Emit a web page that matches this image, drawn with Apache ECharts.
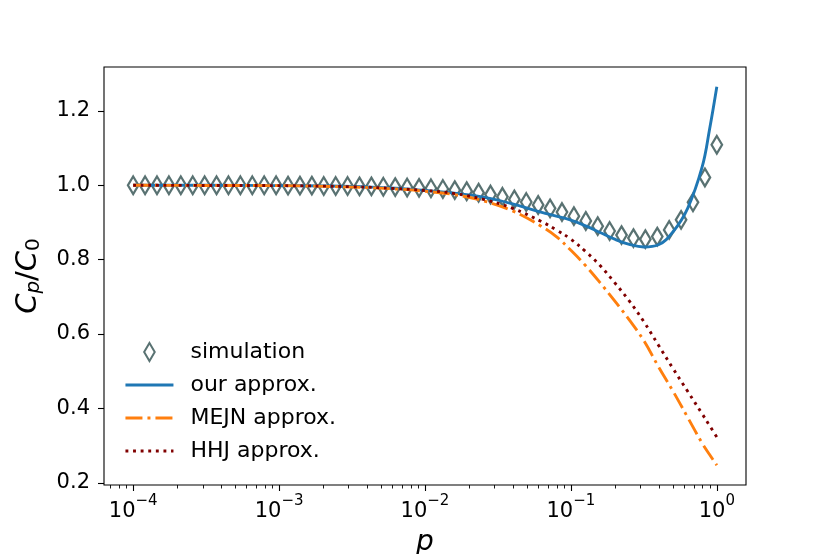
<!DOCTYPE html>
<html><head><meta charset="utf-8">
<script src="https://cdn.jsdelivr.net/npm/echarts@6/dist/echarts.min.js"></script>
<style>html,body{margin:0;padding:0;background:#fff}#c{width:830px;height:554px}</style>
</head><body><div id="c"></div>
<script>
// simulation points (p, C_p/C_0)
const simP = [1.0e-4, 1.2068e-4, 1.4563e-4, 1.7575e-4, 2.1210e-4, 2.5595e-4, 3.0888e-4, 3.7276e-4, 4.4984e-4, 5.4287e-4,
  6.5513e-4, 7.9060e-4, 9.5410e-4, 1.1514e-3, 1.3895e-3, 1.6768e-3, 2.0236e-3, 2.4421e-3, 2.9471e-3, 3.5565e-3,
  4.2919e-3, 5.1795e-3, 6.2506e-3, 7.5431e-3, 9.1030e-3, 1.09854e-2, 1.32571e-2, 1.59985e-2, 1.93069e-2, 2.32995e-2,
  2.81177e-2, 3.39322e-2, 4.09491e-2, 4.94171e-2, 5.96362e-2, 7.19686e-2, 8.68511e-2, 0.104811, 0.126486, 0.152642,
  0.184207, 0.222300, 0.268270, 0.323746, 0.390694, 0.471487, 0.568987, 0.686649, 0.828643, 1.0];
const simVal = [1.000, 1.000, 1.000, 1.000, 1.000, 1.000, 1.000, 1.000, 1.000, 1.000,
  1.000, 1.000, 1.000, 0.999, 0.999, 0.999, 0.998, 0.998, 0.998, 0.997,
  0.997, 0.996, 0.995, 0.994, 0.993, 0.992, 0.990, 0.987, 0.984, 0.980,
  0.975, 0.969, 0.962, 0.955, 0.947, 0.938, 0.928, 0.917, 0.904, 0.890,
  0.877, 0.866, 0.858, 0.855, 0.862, 0.880, 0.907, 0.954, 1.021, 1.109];

// approximation curves
const lineP = [1e-4, 3.162e-4, 1e-3, 3.162e-3, 6.310e-3, 1e-2, 1.585e-2, 2.512e-2, 3.981e-2, 6.310e-2,
  7.943e-2, 0.1, 0.1259, 0.1585, 0.1995, 0.2512, 0.3162, 0.3981, 0.5012, 0.6310, 0.7943, 0.8913, 1.0];
const ourVal = [1.000, 1.000, 0.999, 0.997, 0.992, 0.986, 0.979, 0.968, 0.950, 0.927,
  0.917, 0.906, 0.891, 0.873, 0.855, 0.841, 0.834, 0.840, 0.875, 0.938, 1.050, 1.150, 1.265];
const mejnVal = [1.000, 0.9995, 0.999, 0.995, 0.990, 0.984, 0.975, 0.958, 0.931, 0.889,
  0.862, 0.825, 0.784, 0.738, 0.689, 0.638, 0.582, 0.512, 0.446, 0.376, 0.306, 0.276, 0.247];
const hhjVal = [1.000, 0.9995, 0.999, 0.996, 0.991, 0.986, 0.978, 0.962, 0.938, 0.902,
  0.880, 0.855, 0.822, 0.784, 0.738, 0.689, 0.633, 0.570, 0.507, 0.446, 0.385, 0.354, 0.323];

const seriesNames = ['simulation', 'our approx.', 'MEJN approx.', 'HHJ approx.'];
const xMajorTicks = [1e-4, 1e-3, 1e-2, 1e-1, 1];
const xMajorExp = ['\u22124', '\u22123', '\u22122', '\u22121', '0'];
const yTicks = [0.2, 0.4, 0.6, 0.8, 1.0, 1.2];

const xMin = 6.3096e-5, xMax = 1.58489;
const xMinorTicks = [];
for (let e = -5; e <= 0; e++) {
  for (let m = 2; m <= 9; m++) {
    const v = m * Math.pow(10, e);
    if (v > xMin && v < xMax) xMinorTicks.push(v);
  }
}

const FONT = 'DejaVu Sans';
const chart = echarts.init(document.getElementById('c'), null, {renderer: 'canvas'});
const diamond = 'path://M5,0 L10,8.5 L5,17 L0,8.5 Z';
const hideSym = {opacity: 0, color: 'rgba(0,0,0,0)', borderWidth: 0};
const legLine = {width: 2.9};

chart.setOption({
  animation: false,
  backgroundColor: '#fff',
  textStyle: {fontFamily: FONT},
  grid: {left: 104, right: 84, top: 67, bottom: 69, outerBoundsMode: 'none', containLabel: false,
    show: true, borderColor: '#000', borderWidth: 1.1, backgroundColor: 'transparent'},
  legend: {
    orient: 'vertical', left: 119, top: 336, itemWidth: 48, itemHeight: 18, itemGap: 11,
    selectedMode: false,
    data: [
      {name: seriesNames[0]},
      {name: seriesNames[1], itemStyle: hideSym, lineStyle: legLine},
      {name: seriesNames[2], itemStyle: hideSym, lineStyle: legLine},
      {name: seriesNames[3], itemStyle: hideSym, lineStyle: legLine}
    ],
    textStyle: {fontSize: 22, fontFamily: FONT, color: '#000', padding: [0, 0, 0, 12], lineHeight: 22}
  },
  xAxis: [{
    type: 'log', logBase: 10, min: xMin, max: xMax,
    name: 'p', nameLocation: 'middle', nameGap: 44,
    nameTextStyle: {fontStyle: 'italic', fontSize: 28, fontFamily: FONT, color: '#000'},
    axisLine: {show: false},
    splitLine: {show: false}, minorSplitLine: {show: false},
    axisTick: {customValues: xMajorTicks, length: 6, lineStyle: {color: '#000', width: 1.1}},
    axisLabel: {
      customValues: xMajorTicks, margin: 9, color: '#000',
      formatter: function (v) {
        const i = xMajorTicks.findIndex(t => Math.abs(Math.log10(t) - Math.log10(v)) < 1e-6);
        return '{b|10}{s|' + (i >= 0 ? xMajorExp[i] : '') + '}';
      },
      rich: {
        b: {fontSize: 21, fontFamily: FONT, color: '#000', lineHeight: 28, verticalAlign: 'bottom'},
        s: {fontSize: 15, fontFamily: FONT, color: '#000', lineHeight: 15, verticalAlign: 'top'}
      }
    }
  }, {
    type: 'log', logBase: 10, min: xMin, max: xMax, position: 'bottom',
    axisLine: {show: false}, splitLine: {show: false},
    axisTick: {customValues: xMinorTicks, length: 3.5, lineStyle: {color: '#000', width: 0.9}},
    axisLabel: {show: false}
  }],
  yAxis: {
    type: 'value', min: 0.194, max: 1.318,
    name: '{i|C}{sp|p}{n|/}{i|C}{s0|0}', nameLocation: 'middle', nameGap: 60, nameRotate: 90,
    nameTextStyle: {
      color: '#000',
      rich: {
        i: {fontSize: 29, fontStyle: 'italic', fontFamily: FONT, color: '#000', lineHeight: 32},
        n: {fontSize: 29, fontFamily: FONT, color: '#000', lineHeight: 32},
        sp: {fontSize: 20, fontStyle: 'italic', fontFamily: FONT, color: '#000', lineHeight: 10, verticalAlign: 'bottom'},
        s0: {fontSize: 20, fontFamily: FONT, color: '#000', lineHeight: 10, verticalAlign: 'bottom'}
      }
    },
    axisLine: {show: false}, splitLine: {show: false},
    axisTick: {customValues: yTicks, length: 6, lineStyle: {color: '#000', width: 1.1}},
    axisLabel: {customValues: yTicks, margin: 14, fontSize: 21, fontFamily: FONT, color: '#000',
      formatter: v => Number(v).toFixed(1)}
  },
  series: [{
    name: seriesNames[0], type: 'scatter', xAxisIndex: 0,
    data: simP.map((p, i) => [p, simVal[i]]),
    symbol: diamond, symbolSize: [10.5, 17.5],
    itemStyle: {color: 'rgba(255,255,255,0)', borderColor: '#2f4f4f', borderWidth: 2.4},
    z: 2
  }, {
    name: seriesNames[1], type: 'line', xAxisIndex: 0, showSymbol: false, symbol: 'none', smooth: 0.4,
    data: lineP.map((p, i) => [p, ourVal[i]]),
    lineStyle: {color: '#1f77b4', width: 2.9}, itemStyle: {color: '#1f77b4'}, z: 3
  }, {
    name: seriesNames[2], type: 'line', xAxisIndex: 0, showSymbol: false, symbol: 'none', smooth: 0.4,
    data: lineP.map((p, i) => [p, mejnVal[i]]),
    lineStyle: {color: '#ff7f0e', width: 2.9, type: [17, 5, 3, 5], cap: 'butt'}, itemStyle: {color: '#ff7f0e'}, z: 4
  }, {
    name: seriesNames[3], type: 'line', xAxisIndex: 0, showSymbol: false, symbol: 'none', smooth: 0.4,
    data: lineP.map((p, i) => [p, hhjVal[i]]),
    lineStyle: {color: '#800000', width: 2.9, type: [2.9, 4.7], cap: 'butt'}, itemStyle: {color: '#800000'}, z: 5
  }]
});
</script>
</body></html>
